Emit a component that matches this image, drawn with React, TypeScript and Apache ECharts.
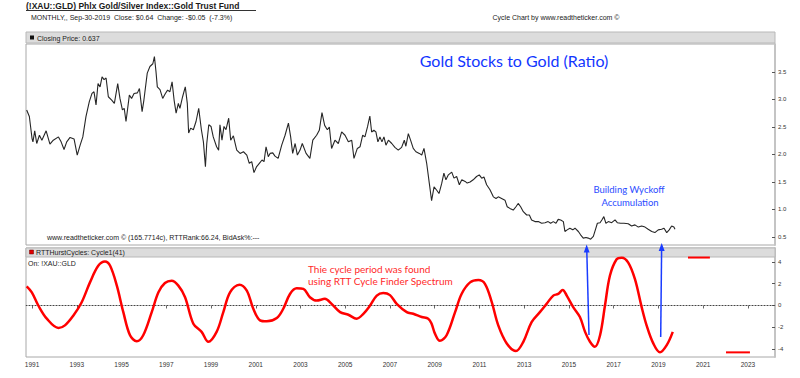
import React, { useEffect, useRef } from 'react';
import * as echarts from 'echarts';

// ---- Data (decimal year, value) ----
const priceSeries: [number, number][] = [
  [1990.76, 2.81], [1990.88, 2.69], [1991.0, 2.29], [1991.04, 2.23], [1991.12, 2.43], [1991.21, 2.2], [1991.33, 2.35], [1991.44, 2.26], [1991.63, 2.43], [1991.8, 2.19], [1991.95, 2.26],
  [1992.18, 2.32], [1992.3, 2.23], [1992.43, 2.09], [1992.55, 2.23], [1992.7, 2.31], [1992.88, 2.28], [1993.02, 1.99], [1993.15, 2.17], [1993.27, 2.32], [1993.41, 2.69], [1993.56, 2.96],
  [1993.68, 3.11], [1993.77, 3.14], [1993.86, 2.9], [1993.95, 3.29], [1994.04, 3.23], [1994.13, 3.41], [1994.22, 3.36], [1994.31, 3.39], [1994.41, 3.05], [1994.56, 2.99], [1994.68, 2.93],
  [1994.83, 3.29], [1994.93, 3.02], [1995.04, 2.81], [1995.12, 2.84], [1995.2, 2.6], [1995.35, 3.08], [1995.45, 3.02], [1995.56, 3.11], [1995.71, 3.12], [1995.8, 3.2], [1995.92, 2.78],
  [1996.0, 2.99], [1996.15, 3.48], [1996.27, 3.6], [1996.4, 3.65], [1996.47, 3.78], [1996.54, 3.51], [1996.6, 3.23], [1996.72, 3.18], [1996.84, 3.02], [1996.96, 3.11], [1997.06, 3.17],
  [1997.16, 3.14], [1997.26, 3.32], [1997.35, 2.99], [1997.44, 2.75], [1997.54, 2.93], [1997.61, 2.84], [1997.73, 3.05], [1997.85, 3.23], [1997.94, 2.93], [1998.0, 2.39], [1998.09, 2.48],
  [1998.21, 2.45], [1998.33, 2.6], [1998.45, 2.84], [1998.57, 2.45], [1998.66, 2.23], [1998.75, 1.78], [1998.81, 2.2], [1998.9, 2.54], [1999.0, 2.51], [1999.1, 2.32], [1999.25, 2.14],
  [1999.34, 2.08], [1999.4, 2.54], [1999.49, 2.26], [1999.58, 2.51], [1999.67, 2.45], [1999.79, 2.66], [1999.88, 2.26], [2000.0, 2.34], [2000.15, 2.08], [2000.3, 2.02], [2000.45, 2.05],
  [2000.6, 1.99], [2000.71, 1.84], [2000.82, 1.87], [2000.92, 1.67], [2001.04, 1.78], [2001.16, 1.84], [2001.28, 1.9], [2001.37, 1.87], [2001.46, 2.14], [2001.56, 1.96], [2001.64, 2.02],
  [2001.76, 2.03], [2001.86, 1.97], [2002.0, 1.93], [2002.16, 2.17], [2002.31, 2.35], [2002.46, 2.57], [2002.56, 2.32], [2002.65, 2.02], [2002.76, 2.2], [2002.86, 1.99], [2002.98, 2.08],
  [2003.08, 2.2], [2003.25, 2.02], [2003.42, 1.93], [2003.55, 2.26], [2003.72, 2.35], [2003.84, 2.44], [2003.96, 2.76], [2004.08, 2.53], [2004.2, 2.45], [2004.29, 2.5], [2004.39, 2.11],
  [2004.54, 2.26], [2004.69, 2.2], [2004.84, 2.41], [2004.99, 2.35], [2005.14, 2.23], [2005.29, 2.26], [2005.39, 1.93], [2005.54, 2.11], [2005.66, 2.14], [2005.78, 2.35], [2005.88, 2.32],
  [2006.0, 2.51], [2006.1, 2.7], [2006.18, 2.41], [2006.28, 2.44], [2006.37, 2.41], [2006.46, 2.23], [2006.55, 2.32], [2006.64, 2.23], [2006.73, 2.32], [2006.82, 2.17], [2006.93, 2.26],
  [2007.08, 2.2], [2007.22, 2.13], [2007.37, 2.08], [2007.52, 2.13], [2007.64, 2.26], [2007.71, 2.15], [2007.82, 2.38], [2007.92, 2.26], [2008.04, 2.11], [2008.16, 2.05], [2008.31, 2.02],
  [2008.42, 1.99], [2008.52, 2.11], [2008.64, 1.84], [2008.76, 1.47], [2008.86, 1.16], [2008.97, 1.41], [2009.09, 1.35], [2009.19, 1.29], [2009.31, 1.47], [2009.41, 1.66], [2009.5, 1.54],
  [2009.61, 1.63], [2009.76, 1.68], [2009.86, 1.57], [2009.98, 1.6], [2010.1, 1.45], [2010.21, 1.54], [2010.36, 1.51], [2010.45, 1.48], [2010.58, 1.5], [2010.72, 1.54], [2010.87, 1.6],
  [2010.99, 1.63], [2011.1, 1.57], [2011.2, 1.59], [2011.32, 1.45], [2011.47, 1.36], [2011.62, 1.23], [2011.74, 1.2], [2011.84, 1.23], [2011.99, 1.2], [2012.14, 1.17], [2012.24, 1.05],
  [2012.36, 1.02], [2012.51, 0.99], [2012.63, 1.05], [2012.73, 1.11], [2012.84, 1.05], [2012.96, 0.96], [2013.11, 0.9], [2013.23, 0.9], [2013.33, 0.81], [2013.48, 0.78], [2013.63, 0.78],
  [2013.78, 0.75], [2013.93, 0.76], [2014.07, 0.78], [2014.18, 0.75], [2014.3, 0.78], [2014.42, 0.75], [2014.52, 0.82], [2014.63, 0.81], [2014.75, 0.78], [2014.82, 0.6], [2014.92, 0.63],
  [2015.04, 0.66], [2015.17, 0.63], [2015.27, 0.66], [2015.42, 0.6], [2015.52, 0.54], [2015.64, 0.48], [2015.76, 0.49], [2015.86, 0.48], [2015.97, 0.46], [2016.09, 0.51], [2016.18, 0.63],
  [2016.27, 0.75], [2016.39, 0.76], [2016.47, 0.81], [2016.56, 0.87], [2016.65, 0.75], [2016.76, 0.78], [2016.91, 0.76], [2017.06, 0.81], [2017.16, 0.76], [2017.31, 0.75], [2017.46, 0.75],
  [2017.65, 0.74], [2017.8, 0.7], [2017.95, 0.72], [2018.1, 0.68], [2018.25, 0.7], [2018.4, 0.68], [2018.54, 0.64], [2018.7, 0.6], [2018.84, 0.58], [2018.99, 0.63], [2019.14, 0.64],
  [2019.25, 0.66], [2019.37, 0.58], [2019.48, 0.63], [2019.59, 0.7], [2019.69, 0.68], [2019.74, 0.64],
];

const cycleSeries: [number, number][] = [
  [1990.76, 1.76], [1990.99, 1.21], [1991.28, 0.0], [1991.66, -1.21], [1992.18, -2.06], [1992.47, -1.82], [1992.85, -0.91], [1993.22, 0.3], [1993.59, 2.12], [1993.96, 3.64],
  [1994.26, 4.03], [1994.49, 3.64], [1994.79, 1.82], [1995.08, -0.61], [1995.38, -2.73], [1995.68, -3.27], [1995.97, -2.73], [1996.35, -0.61], [1996.65, 1.21], [1996.94, 2.06],
  [1997.24, 2.27], [1997.54, 1.82], [1997.84, 0.76], [1998.21, -1.67], [1998.58, -2.42], [1998.88, -3.33], [1999.25, -2.42], [1999.55, -0.61], [1999.85, 1.21], [2000.27, 1.91],
  [2000.6, 1.36], [2000.89, -0.3], [2001.19, -1.36], [2001.49, -1.45], [2001.94, -1.15], [2002.23, -0.3], [2002.53, 1.06], [2002.83, 1.58], [2003.13, 1.52], [2003.42, 0.76],
  [2003.72, 0.45], [2004.09, 0.61], [2004.39, 0.15], [2004.77, -0.61], [2005.14, -0.85], [2005.51, -1.21], [2005.81, -0.76], [2006.11, 0.0], [2006.41, 0.91], [2006.7, 1.15],
  [2007.0, 0.95], [2007.3, 0.15], [2007.75, -0.61], [2008.04, -0.76], [2008.42, -1.06], [2008.71, -1.21], [2008.86, -1.67], [2009.01, -2.58], [2009.23, -3.24], [2009.53, -2.73],
  [2009.91, -0.61], [2010.2, 1.06], [2010.58, 2.12], [2010.95, 2.33], [2011.25, 1.97], [2011.55, 0.3], [2011.84, -1.82], [2012.22, -3.48], [2012.63, -4.18], [2012.96, -3.33],
  [2013.33, -1.52], [2013.7, -0.61], [2014.0, 0.15], [2014.3, 0.91], [2014.52, 1.06], [2014.72, 1.42], [2014.9, 0.91], [2015.19, -0.15], [2015.49, -1.06], [2015.72, -2.42],
  [2015.94, -3.33], [2016.16, -3.79], [2016.39, -2.73], [2016.61, 0.0], [2016.83, 2.73], [2017.13, 4.24], [2017.36, 4.39], [2017.65, 3.94], [2017.95, 2.42], [2018.25, -0.15],
  [2018.47, -1.82], [2018.77, -3.48], [2019.07, -4.3], [2019.37, -3.64], [2019.64, -2.42],
];

const projectionHigh: [number, number][] = [[2020.32, 4.4], [2021.3, 4.4]];
const projectionLow: [number, number][] = [[2022.02, -4.3], [2023.09, -4.3]];

const xTickYears = [1991, 1993, 1995, 1997, 1999, 2001, 2003, 2005, 2007, 2009, 2011, 2013, 2015, 2017, 2019, 2021, 2023];
const priceTicks = [0.5, 1.0, 1.5, 2.0, 2.5, 3.0, 3.5];
const cycleTicks = [-4, -2, 0, 2, 4];

const X_MIN = 1990.73;
const X_MAX = 2024.21;

const SANS = '"Liberation Sans", Arial, sans-serif';
const CAL = 'Lato, "Open Sans", sans-serif';

export default function App() {
  const ref = useRef<HTMLDivElement>(null);
  useEffect(() => {
    if (!ref.current) return;
    const chart = echarts.init(ref.current, null, { renderer: 'svg' });
    const smallText = (x: number, y: number, text: string, extra: any = {}) => ({
      type: 'text', x, y, z: 20,
      style: { text, fill: '#222', font: `7px ${SANS}`, textAlign: 'left', textVerticalAlign: 'middle', ...extra },
    });
    const option: any = {
      animation: false,
      backgroundColor: '#ffffff',
      grid: [
        { left: 26, top: 44, width: 749, height: 201, show: true, borderColor: '#a8a8a8', borderWidth: 1, backgroundColor: 'transparent' },
        { left: 26, top: 248, width: 749, height: 109, show: true, borderColor: '#a8a8a8', borderWidth: 1, backgroundColor: 'transparent' },
      ],
      xAxis: [
        {
          type: 'value', gridIndex: 0, min: X_MIN, max: X_MAX,
          axisLine: { show: false }, axisTick: { show: false }, axisLabel: { show: false }, splitLine: { show: false },
        },
        {
          type: 'value', gridIndex: 1, min: X_MIN, max: X_MAX,
          axisLine: { show: true, lineStyle: { color: '#a8a8a8', width: 1 } },
          axisTick: { show: true, length: 3, customValues: xTickYears, lineStyle: { color: '#666' } },
          axisLabel: {
            customValues: xTickYears, fontSize: 6.5, fontFamily: SANS, color: '#333', margin: 4,
            formatter: (v: number) => String(Math.round(v)),
          },
          splitLine: { show: false },
        },
      ],
      yAxis: [
        {
          type: 'value', gridIndex: 0, position: 'right', min: 0.3545, max: 4.009,
          axisLine: { show: true, lineStyle: { color: '#c4c4c4', width: 2 } },
          axisTick: { show: true, inside: true, length: 3, customValues: priceTicks, lineStyle: { color: '#555' } },
          axisLabel: {
            customValues: priceTicks, fontSize: 6, fontFamily: SANS, color: '#333', margin: 3,
            formatter: (v: number) => v.toFixed(1),
          },
          splitLine: { show: false },
        },
        {
          type: 'value', gridIndex: 1, position: 'right', min: -4.725, max: 5.275,
          axisLine: { show: true, lineStyle: { color: '#c4c4c4', width: 2 } },
          axisTick: { show: true, inside: true, length: 3, customValues: cycleTicks, lineStyle: { color: '#555' } },
          axisLabel: {
            customValues: cycleTicks, fontSize: 6, fontFamily: SANS, color: '#333', margin: 3,
            formatter: (v: number) => String(Math.round(v)),
          },
          splitLine: { show: false },
        },
      ],
      series: [
        {
          name: 'Closing Price', type: 'line', xAxisIndex: 0, yAxisIndex: 0, data: priceSeries,
          symbol: 'none', showSymbol: false, lineStyle: { color: '#262626', width: 1.1 }, z: 5,
        },
        {
          name: 'Cycle1(41)', type: 'line', xAxisIndex: 1, yAxisIndex: 1, data: cycleSeries,
          symbol: 'none', showSymbol: false, smooth: 0.35, lineStyle: { color: '#ff0000', width: 2.5 }, z: 5,
          markLine: {
            silent: true, symbol: ['none', 'none'], label: { show: false },
            lineStyle: { color: '#444', type: [1, 2], width: 1 },
            data: [{ yAxis: 0 }],
          },
        },
        {
          name: 'ProjHigh', type: 'line', xAxisIndex: 1, yAxisIndex: 1, data: projectionHigh,
          symbol: 'none', lineStyle: { color: '#ff0000', width: 2 }, z: 5,
        },
        {
          name: 'ProjLow', type: 'line', xAxisIndex: 1, yAxisIndex: 1, data: projectionLow,
          symbol: 'none', lineStyle: { color: '#ff0000', width: 2 }, z: 5,
        },
      ],
      graphic: [
        // header
        { type: 'text', x: 26, y: 6, z: 20, style: { text: '(!XAU::GLD) Phlx Gold/Silver Index::Gold Trust Fund', fill: '#1a1a1a', font: `bold 8.5px ${SANS}`, textAlign: 'left', textVerticalAlign: 'middle' } },
        { type: 'line', z: 20, shape: { x1: 26, y1: 10.5, x2: 256, y2: 10.5 }, style: { stroke: '#333', lineWidth: 1 } },
        smallText(31, 17.5, 'MONTHLY,, Sep-30-2019  Close: $0.64  Change: -$0.05  (-7.3%)'),
        smallText(556, 17.5, 'Cycle Chart by www.readtheticker.com \u00a9', { textAlign: 'center' }),
        // top panel header bar
        { type: 'rect', z: 1, shape: { x: 26, y: 32, width: 749, height: 11 }, style: { fill: '#dcdcdc', stroke: '#b8b8b8', lineWidth: 1 } },
        { type: 'rect', z: 20, shape: { x: 30, y: 35.5, width: 4, height: 4 }, style: { fill: '#111' } },
        smallText(37, 38, 'Closing Price: 0.637'),
        // annotations top
        { type: 'text', x: 514, y: 60, z: 20, style: { text: 'Gold Stocks to Gold (Ratio)', fill: '#1236ff', font: `16px ${CAL}`, textAlign: 'center', textVerticalAlign: 'middle' } },
        { type: 'text', x: 629, y: 189, z: 20, style: { text: 'Building Wyckoff', fill: '#2a4bff', font: `9.5px ${CAL}`, textAlign: 'center', textVerticalAlign: 'middle' } },
        { type: 'text', x: 630, y: 202.5, z: 20, style: { text: 'Accumulation', fill: '#2a4bff', font: `9.5px ${CAL}`, textAlign: 'center', textVerticalAlign: 'middle' } },
        smallText(47, 237.5, 'www.readtheticker.com \u00a9 (165.7714c), RTTRank:66.24, BidAsk%:---'),
        // lower panel header bar
        { type: 'rect', z: 1, shape: { x: 26, y: 248, width: 749, height: 9 }, style: { fill: '#dcdcdc', stroke: '#b8b8b8', lineWidth: 1 } },
        { type: 'rect', z: 20, shape: { x: 29.5, y: 250, width: 4, height: 4 }, style: { fill: '#e00000', stroke: '#700000', lineWidth: 0.5 } },
        smallText(36, 252.5, 'RTTHurstCycles: Cycle1(41)'),
        smallText(28, 263, 'On: !XAU::GLD'),
        { type: 'text', x: 308, y: 269, z: 20, style: { text: 'Thie cycle period was found', fill: '#ff2a2a', font: `10px ${CAL}`, textAlign: 'left', textVerticalAlign: 'middle' } },
        { type: 'text', x: 308, y: 281, z: 20, style: { text: 'using RTT Cycle Finder Spectrum', fill: '#ff2a2a', font: `10px ${CAL}`, textAlign: 'left', textVerticalAlign: 'middle' } },
        // arrows
        { type: 'line', z: 25, shape: { x1: 589, y1: 335, x2: 586.8, y2: 251 }, style: { stroke: '#1a3cff', lineWidth: 1.5 } },
        { type: 'polygon', z: 25, shape: { points: [[586.6, 244.5], [583.8, 252.5], [589.6, 252.5]] }, style: { fill: '#1a3cff' } },
        { type: 'line', z: 25, shape: { x1: 660.7, y1: 337, x2: 661.6, y2: 250 }, style: { stroke: '#1a3cff', lineWidth: 1.5 } },
        { type: 'polygon', z: 25, shape: { points: [[661.7, 243], [658.7, 251], [664.7, 251]] }, style: { fill: '#1a3cff' } },
      ],
    };
    chart.setOption(option);
    return () => chart.dispose();
  }, []);
  return <div ref={ref} style={{ position: 'fixed', left: 0, top: 0, width: 800, height: 378 }} />;
}
